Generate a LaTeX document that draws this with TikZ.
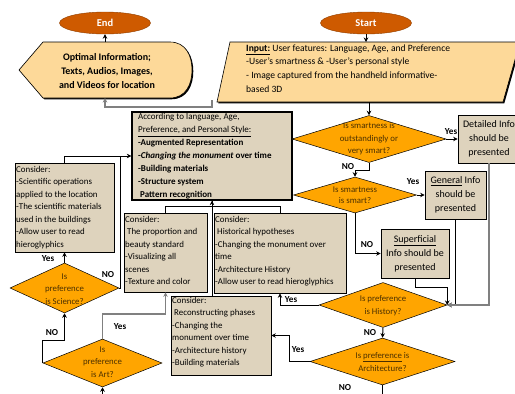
\documentclass[tikz,border=0pt]{standalone}
\usepackage{fontspec}
\setmainfont{Carlito}
\usetikzlibrary{shapes.geometric,arrows.meta,shadows}
\definecolor{termfill}{RGB}{206,90,0}
\definecolor{iofill}{RGB}{253,217,153}
\definecolor{decfill}{RGB}{255,165,0}
\definecolor{boxfill}{RGB}{222,211,189}
\definecolor{dectext}{RGB}{75,48,0}
\definecolor{lgray}{RGB}{128,128,128}
\tikzset{
  term/.style={ellipse, fill=termfill, draw=termfill!70!black, line width=0.4pt, text=white,
    font=\bfseries\fontsize{10.5}{12}\selectfont, minimum width=91pt, minimum height=22pt, inner sep=0pt},
  shad/.style={drop shadow={shadow xshift=1.3pt, shadow yshift=-1.3pt, fill=black, opacity=1}},
  iobox/.style={fill=iofill, draw=black, line width=0.6pt, shad},
  iotxt/.style={inner sep=0pt, align=center, font=\bfseries\fontsize{10}{14.3}\selectfont},
  inptxt/.style={inner sep=0pt, align=left, anchor=north west, font=\fontsize{9.6}{13.6}\selectfont},
  dec/.style={diamond, fill=decfill, draw=black, line width=0.5pt, inner sep=0pt},
  dectxt/.style={inner sep=0pt, align=center, text=dectext, font=\fontsize{8.8}{12.5}\selectfont},
  infobox/.style={rectangle, fill=boxfill, draw=black, line width=0.7pt, inner sep=0pt,
    align=center, font=\fontsize{10}{14}\selectfont},
  cbox/.style={rectangle, fill=boxfill, draw=black, line width=0.7pt, inner sep=0pt, shad},
  ctxt/.style={inner sep=0pt, align=left, anchor=north west, font=\fontsize{8.9}{12.5}\selectfont},
  acctxt/.style={inner sep=0pt, align=left, anchor=north west, font=\fontsize{9}{12.9}\selectfont},
  line/.style={draw=black, line width=1pt},
  conn/.style={line, -{Stealth[length=4.5pt,width=4.5pt]}},
  gconn/.style={draw=lgray, line width=1.6pt, -{Stealth[length=4.5pt,width=4.5pt]}},
  lab/.style={inner sep=0pt, font=\bfseries\fontsize{9.2}{10}\selectfont}
}
\begin{document}
\begin{tikzpicture}[x=1pt,y=-1pt]
\useasboundingbox (0,0) rectangle (515,394);
\clip (0,0) rectangle (515,394);

% terminals
\node[term] (end) at (105,23) {End};
\node[term] (start) at (366,23) {Start};

% output display shape
\draw[iobox] (19,70) -- (43,42) -- (170,42) .. controls (186,42) and (192,56) .. (192,70)
  .. controls (192,84) and (186,98) .. (170,98) -- (43,98) -- cycle;
\node[iotxt] (opt) at (107,71) {Optimal Information;\\Texts, Audios, Images,\\and Videos for location};
\coordinate (optN) at (105,42);
\coordinate (optS) at (105,98);

% input parallelogram
\draw[iobox] (230,42) -- (520,42) -- (503,102) -- (217,102) -- cycle;
\node[inptxt] (inp) at (246,44.5) {\underline{\textbf{Input:}} User features: Language, Age, and Preference\\
-User's smartness \& -User's personal style\\
- Image captured from the handheld informative-\\
based 3D};
\coordinate (inpN) at (366,42);
\coordinate (inpS) at (369,102);
\coordinate (gsrc) at (212,100);

% main box
\node[cbox, line width=1.3pt, minimum width=160pt, minimum height=88pt] (acc) at (212,156) {};
\node[acctxt] (acct) at (138,113.5) {According to language, Age,\\
\underline{Preference, and Personal Style:}\\
\textbf{-Augmented Representation}\\
\textbf{-\textit{Changing the monument} over time}\\
\textbf{-Building materials}\\
\textbf{-Structure system}\\
\textbf{\ Pattern recognition}};

% decisions
\node[dec, minimum width=154pt, minimum height=47pt] (d1) at (369,139) {};
\node[dectxt] (d1t) at (369,139) {Is smartness is\\outstandingly or\\very smart?};
\node[dec, minimum width=123pt, minimum height=36pt] (d2) at (355,195) {};
\node[dectxt, font=\fontsize{8.8}{11}\selectfont] (d2t) at (355,195) {Is smartness\\is smart?};
\node[dec, minimum width=128pt, minimum height=45pt] (d3) at (383,305) {};
\node[dectxt] (d3t) at (383,305.5) {Is preference\\is History?};
\node[dec, minimum width=145pt, minimum height=47pt] (d4) at (382.5,361.5) {};
\node[dectxt] (d4t) at (382.5,362) {Is \underline{preference} is\\Architecture?};
\node[dec, minimum width=109pt, minimum height=50pt] (dsci) at (64.5,288) {};
\node[dectxt] (dscit) at (64.5,289) {Is\\preference\\is Science?};
\node[dec, minimum width=119pt, minimum height=48pt] (dart) at (102.5,363) {};
\node[dectxt] (dartt) at (102.5,362) {Is\\preference\\is Art?};

% info boxes
\node[infobox, minimum width=62pt, minimum height=48pt] (det) at (489,139) {Detailed Info\\should be\\presented};
\node[infobox, minimum width=61pt, minimum height=48pt] (gen) at (455.5,195) {\underline{General} Info\\should be\\presented};
\node[infobox, shad, minimum width=68pt, minimum height=49pt] (sup) at (415,253.5) {\underline{Superficial}\\Info should be\\presented};

% consider boxes
\node[cbox, minimum width=99pt, minimum height=89pt] (sci) at (64.5,207.5) {};
\node[ctxt] (scit) at (16,166) {Consider:\\-Scientific operations\\applied to the location\\-The scientific materials\\used in the buildings\\-Allow user to read\\hieroglyphics};
\node[cbox, minimum width=83pt, minimum height=79pt] (prop) at (165.5,252.5) {};
\node[ctxt] (propt) at (125,216) {Consider:\\\ The proportion and\\beauty standard\\-Visualizing all\\scenes\\-Texture and color};
\node[cbox, minimum width=132pt, minimum height=80pt] (hist) at (280,253) {};
\node[ctxt] (histt) at (215,216) {Consider:\\\ Historical hypotheses\\-Changing the monument over\\time\\-Architecture History\\-Allow user to read hieroglyphics};
\node[cbox, minimum width=100pt, minimum height=79pt] (rec) at (221,335.5) {};
\node[ctxt] (rect) at (172,297) {Consider:\\\ Reconstructing phases\\-Changing the\\monument over time\\-Architecture history\\-Building materials};

% connectors
\draw[conn] (optN) -- (end.south);
\draw[conn] (start.south) -- (inpN);
\draw[gconn] (gsrc) -- ++(0,7) -| (optS);
\draw[conn] (inpS) -- (d1.north);
\draw[conn] (d1.east) -- (det.west);
\node[lab] (y1) at (451,132) {Yes};
\draw[conn] (d1.south) -- ++(0,8) -| (d2.north);
\node[lab] (n1) at (348,167) {NO};
\draw[conn] (d2.east) -- (gen.west);
\node[lab] (y2) at (413,182) {Yes};
\draw[conn] (d2.south) |- (sup.west);
\node[lab] (n2) at (367,245) {NO};
\draw[conn] (sup.south) -- ++(0,9) -| (d3.east);
\draw[conn] (gen.south) |- (d3.east);
\draw[gconn] (det.south) |- (d3.east);
\draw[conn] (d3.west) -| (hist.south);
\node[lab] (y3) at (291,299.5) {Yes};
\draw[conn] (d3.south) -- (d4.north);
\node[lab] (n3) at (370,333) {NO};
\draw[conn] (d4.west) -- ++(-20,0) |- (rec.east);
\node[lab] (y4) at (298,350) {Yes};
\coordinate (d4out) at (382.5,398);
\draw[line] (d4.south) -- (d4out);
\node[lab] (n4) at (345,388) {NO};

\draw[conn] (acc.south |- rec.north) -- (acc.south);
\draw[line] (prop.north) -- ++(0,-6) -| (acc.south);
\draw[line] (hist.north) -- ++(0,-6) -| (acc.south);
\draw[conn] (sci.north) |- (acc.west);
\coordinate (j1) at (120,156);
\draw[line] (dsci.east) -| (j1);
\node[lab] (n5) at (108,275) {NO};
\draw[conn] (dsci.north) -- (sci.south);
\node[lab] (y5) at (48,259) {Yes};
\draw[conn] (dart.west) -- ++(0,-23) -| (dsci.south);
\node[lab] (n6) at (52,333) {NO};
\draw[gconn] (dart.north) -- ++(0,-25) -| (prop.south);
\node[lab] (y6) at (120,327) {Yes};
\coordinate (artin) at (102.5,398);
\draw[conn] (artin) -- (dart.south);
\end{tikzpicture}
\end{document}
